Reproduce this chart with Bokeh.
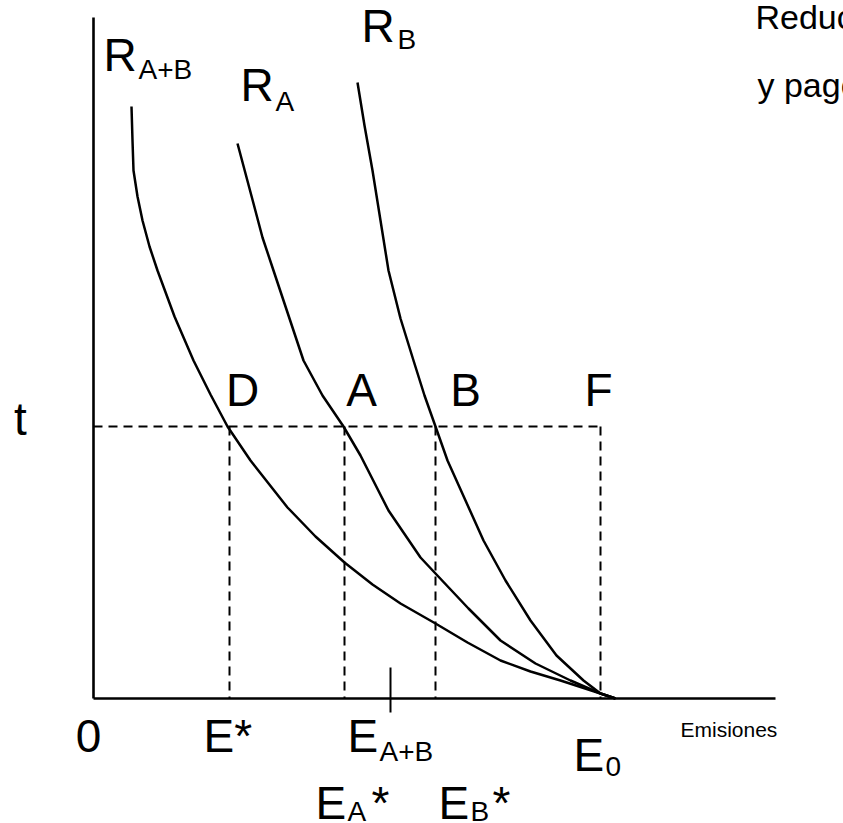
from bokeh.plotting import figure
from bokeh.models import Range1d
from bokeh.core.properties import value
from bokeh.embed import file_html
from bokeh.resources import INLINE

# ---- data (emission units on x, tax units on y; origin at 0) ----
axis_x_end = 682
axis_y_end = 681
t_level = 272
E_star = 136      # D
E_A = 251         # A
E_AB = 297        # E_{A+B} tick
E_B = 342         # B
E_F = 507         # F / E0

# marginal abatement cost curves
rab_x = [38, 39, 40, 44, 49, 56, 64, 81, 100, 117, 134, 157, 194, 222, 251, 279, 307, 342, 374, 407, 437, 467, 507, 522]
rab_y = [592, 558, 528, 502, 478, 452, 428, 382, 338, 304, 272, 238, 191, 162, 136, 114, 95, 75, 56, 38, 27, 18, 5, 0]
ra_x = [144, 152, 160, 169, 180, 195, 210, 229, 250, 267, 295, 327, 342, 375, 407, 442, 477, 507, 522]
ra_y = [555, 525, 495, 461, 428, 383, 338, 303, 272, 243, 188, 141, 125, 90, 58, 35, 18, 5, 0]
rb_x = [264, 271, 279, 287, 295, 307, 320, 331, 342, 354, 372, 390, 412, 437, 463, 490, 507, 522]
rb_y = [616, 573, 528, 478, 428, 380, 338, 303, 272, 238, 198, 158, 118, 78, 43, 18, 5, 0]

point_labels = ["D", "A", "B", "F"]
point_label_x = [149, 268, 372, 505]

FONT = value("Liberation Sans")

p = figure(width=843, height=823, output_backend="svg", toolbar_location=None,
           x_range=Range1d(-93, 750), y_range=Range1d(-125, 698),
           x_axis_type=None, y_axis_type=None, min_border=0,
           outline_line_color=None, background_fill_color="white",
           border_fill_color="white")
p.grid.visible = False

# axes
p.line([0, 0], [axis_y_end, 0], line_color="black", line_width=2.6)
p.line([0, axis_x_end], [0, 0], line_color="black", line_width=2.6)
# tick for E_{A+B}
p.line([E_AB, E_AB], [31, -14], line_color="black", line_width=2)

# dashed guide lines
dash = "9 6"
p.line([0, E_F], [t_level, t_level], line_color="black", line_width=2, line_dash=dash)
for xv in [E_star, E_A, E_B, E_F]:
    p.line([xv, xv], [t_level, 0], line_color="black", line_width=2, line_dash=dash)

# curves
for cx, cy in [(rab_x, rab_y), (ra_x, ra_y), (rb_x, rb_y)]:
    p.line(cx, cy, line_color="black", line_width=2.5, line_join="round")

BIG = value("46px")
SUB = value("28px")

def txt(x, y, s, size, align="left"):
    p.text(x=[x], y=[y], text=[s], text_font=FONT, text_font_size=size,
           text_align=align, text_baseline="alphabetic", text_color="black")

# curve labels
txt(10, 644, "R", BIG); txt(45, 629, "A+B", SUB)
txt(147, 614, "R", BIG); txt(182, 597, "A", SUB)
txt(268, 673, "R", BIG); txt(304, 659, "B", SUB)

# point labels
for lab, xv in zip(point_labels, point_label_x):
    txt(xv, 309, lab, BIG, align="center")

# t label
txt(-73, 280, "t", BIG, align="center")

# x-axis labels
txt(-5, -37, "0", BIG, align="center")
txt(110, -37, "E*", BIG)
txt(254, -37, "E", BIG); txt(286, -53, "A+B", SUB)
txt(480, -56, "E", BIG); txt(512, -68, "0", SUB)
txt(587, -31, "Emisiones", value("21px"))
txt(222, -104, "E", BIG); txt(254, -113, "A", SUB); txt(278, -104, "*", BIG)
txt(345, -104, "E", BIG); txt(377, -113, "B", SUB); txt(399, -104, "*", BIG)

# title (cut by the right edge, as in the original)
txt(662, 682, "Reducción de emisiones", value("34px"))
txt(664, 614, "y pago de impuestos", value("34px"))

open("out.html", "w").write(file_html(p, INLINE))
